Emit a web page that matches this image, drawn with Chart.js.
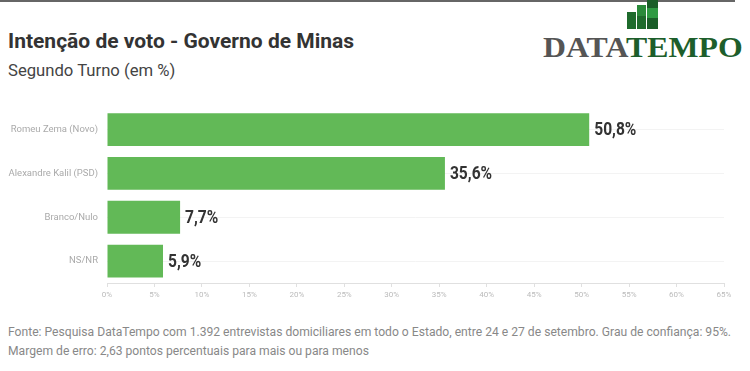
<!DOCTYPE html>
<html>
<head>
<meta charset="utf-8">
<script src="https://cdn.jsdelivr.net/npm/chart.js@4"></script>
<style>
  body { margin: 0; background: #fff; font-family: Roboto, sans-serif; }
  #wrap { position: relative; width: 750px; height: 371px; overflow: hidden; }
  .abs { position: absolute; white-space: nowrap; transform-origin: 0 0; }
  #topline { left: 0; top: 0; width: 735px; height: 2px; background: #666; }
  #title { left: 8px; top: 29px; font-size: 21px; font-weight: 700; color: #333; transform: scaleX(1.0); }
  #subtitle { left: 8px; top: 60px; font-size: 17px; color: #444; transform: scaleX(0.98); }
  #logo { left: 543px; top: 30px; font-family: "Liberation Serif", serif; font-weight: 700; font-size: 30px; transform: scaleX(1.06); }
  #logo .a { color: #555; } #logo .b { color: #1d5e2b; }
  .bar { position: absolute; }
  #footer { left: 8px; top: 322px; font-size: 12.5px; line-height: 19px; color: #888; transform: scaleX(0.97); }
  #chartBox { position: absolute; left: 0; top: 93px; width: 750px; height: 217px; }
</style>
</head>
<body>
<div id="wrap">
  <div class="abs" id="topline"></div>
  <div class="abs" id="title">Intenção de voto - Governo de Minas</div>
  <div class="abs" id="subtitle">Segundo Turno (em %)</div>
  <div class="bar" style="left:627px;top:12px;width:9px;height:17px;background:#1e6b2c"></div>
  <div class="bar" style="left:637px;top:5px;width:9px;height:24px;background:#2a8a3a"></div>
  <div class="bar" style="left:637px;top:16px;width:9px;height:13px;background:#1e6b2c"></div>
  <div class="bar" style="left:647px;top:0px;width:11px;height:29px;background:#1a5e28"></div>
  <div class="bar" style="left:647px;top:8px;width:11px;height:10px;background:#2e9a42"></div>
  <div class="abs" id="logo"><span class="a">DATA</span><span class="b">TEMPO</span></div>
  <div id="chartBox"><canvas id="chart" width="750" height="217"></canvas></div>
  <div class="abs" id="footer">Fonte: Pesquisa DataTempo com 1.392 entrevistas domiciliares em todo o Estado, entre 24 e 27 de setembro. Grau de confiança: 95%.<br>Margem de erro: 2,63 pontos percentuais para mais ou para menos</div>
</div>
<script>
const categories = ["Romeu Zema (Novo)", "Alexandre Kalil (PSD)", "Branco/Nulo", "NS/NR"];
const values = [50.8, 35.6, 7.7, 5.9];
const valueLabels = ["50,8%", "35,6%", "7,7%", "5,9%"];

const valueLabelPlugin = {
  id: "valueLabels",
  afterDatasetsDraw(chart) {
    const ctx = chart.ctx;
    const meta = chart.getDatasetMeta(0);
    ctx.save();
    ctx.font = "bold 19px Roboto";
    ctx.fillStyle = "#333";
    ctx.textBaseline = "middle";
    meta.data.forEach(function (bar, i) {
      ctx.save();
      ctx.translate(bar.x + 5, bar.y + 1);
      ctx.scale(0.82, 1);
      ctx.fillText(valueLabels[i], 0, 0);
      ctx.restore();
    });
    ctx.restore();
  }
};

new Chart(document.getElementById("chart"), {
  type: "bar",
  data: {
    labels: categories,
    datasets: [{
      data: values,
      backgroundColor: "#62b957",
      barPercentage: 0.75,
      categoryPercentage: 1
    }]
  },
  plugins: [valueLabelPlugin],
  options: {
    indexAxis: "y",
    responsive: false,
    animation: false,
    layout: { padding: { top: 0, right: 26, left: 0, bottom: 0 } },
    plugins: { legend: { display: false }, tooltip: { enabled: false } },
    scales: {
      x: {
        min: 0,
        max: 65,
        ticks: {
          stepSize: 5,
          color: "#bbb",
          font: { size: 8, family: "Roboto" },
          padding: 3,
          callback: function (v) { return v + "%"; }
        },
        grid: { drawOnChartArea: false, drawTicks: true, tickLength: 4, color: "#e0e0e0" },
        border: { display: true, color: "#e0e0e0" },
        afterFit: function (s) { s.height = 27; }
      },
      y: {
        ticks: { color: "#aaa", font: { size: 9.5, family: "Roboto" }, padding: 9 },
        grid: { offset: false, drawTicks: false, color: "#f3f3f3" },
        border: { display: false },
        afterFit: function (s) { s.width = 107; }
      }
    }
  }
});
</script>
</body>
</html>
